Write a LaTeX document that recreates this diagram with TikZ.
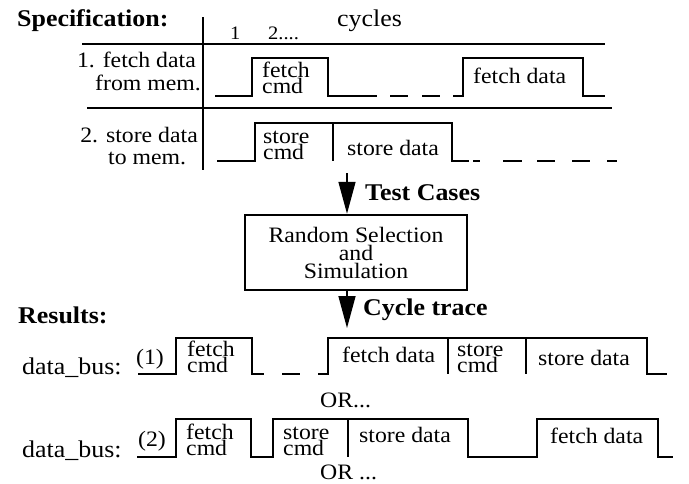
\documentclass[tikz,border=0pt]{standalone}
\usepackage{fontspec}
\setmainfont{Liberation Serif}[FakeStretch=1.08]
\usetikzlibrary{arrows.meta}

% lets stacked lines sit closer than their glyphs would allow
\newcommand{\tightskip}{\lineskiplimit-30pt\relax}

\begin{document}
\begin{tikzpicture}[x=1pt, y=-1pt,
    signal/.style={line width=1.4pt},
    rule/.style={line width=1.4pt},
    lbl/.style={inner sep=0pt, font=\fontsize{22}{23}\selectfont},
    big/.style={inner sep=0pt, font=\fontsize{24}{26}\selectfont},
    digit/.style={inner sep=0pt, font=\fontsize{19}{20}\selectfont},
    head/.style={inner sep=0pt, font=\fontsize{24}{26}\selectfont\bfseries},
    pair/.style={inner sep=0pt, align=left, anchor=south west,
        font=\fontsize{22}{16}\selectfont\tightskip},
    flow/.style={line width=1.6pt, -{Triangle[length=32pt,width=17pt]}}]
    \useasboundingbox (0,0) rectangle (689,483);

    % specification table
    \node[head, anchor=base west] (spec) at (17,26) {Specification:};
    \node[big, anchor=base west] (cyc) at (337,26) {cycles};
    \node[digit, anchor=base west] (c1) at (230,39) {1};
    \node[digit, anchor=base west] (c2) at (268,39) {2....};
    \draw[rule] (203,17) -- (203,170);
    \draw[rule] (82,44) -- (605,44);
    \draw[rule] (87,108) -- (612,108);

    % 1. fetch
    \node[lbl, anchor=base east] (fa) at (196,67) {1. fetch data};
    \node[lbl, anchor=base east] (fb) at (201,90) {from mem.};
    \draw[signal] (215,96) -- (252,96) -- (252,58) -- (328,58) -- (328,96) -- (377,96);
    \foreach \a/\b in {390/408, 422/440} {
        \draw[signal] (\a,96) -- (\b,96);
    }
    \draw[signal] (453,96) -- (463,96) -- (463,58) -- (583,58) -- (583,96) -- (605,96);
    \node[pair] (fcmd) at (262,94) {fetch\\cmd};
    \node[lbl, anchor=base west] (fdat) at (473,83) {fetch data};

    % 2. store
    \node[lbl, anchor=base east] (sa) at (198,142) {2. store data};
    \node[lbl, anchor=base west] (sb) at (108,164) {to mem.};
    \draw[signal] (217,161) -- (255,161) -- (255,123) -- (452,123) -- (452,161) -- (469,161);
    \draw[signal] (333,123) -- (333,161);
    \foreach \a/\b in {473/480, 503/522, 537/555, 572/590, 607/617} {
        \draw[signal] (\a,161) -- (\b,161);
    }
    \node[pair] (scmd) at (263,160) {store\\cmd};
    \node[lbl, anchor=base west] (sdat) at (347,155) {store data};

    % simulation step
    \node[draw, line width=2.5pt, minimum width=222pt, minimum height=75pt,
        align=center, font=\fontsize{22}{18}\selectfont\tightskip]
        (sim) at (356,252.5) {Random Selection\\and\\Simulation};
    \coordinate (tcin) at (347,173);
    \coordinate (ctout) at (347,328);
    \draw[flow] (tcin) -- (tcin |- sim.north);
    \draw[flow] (ctout |- sim.south) -- (ctout);
    \node[head, anchor=base west] (tc) at (365,200) {Test Cases};
    \node[head, anchor=base west] (ct) at (363,315) {Cycle trace};

    % results
    \node[head, anchor=base west] (res) at (18,323) {Results:};

    % trace (1)
    \node[big, anchor=base west] (bus1) at (22,374) {data\_bus:};
    \node[lbl, anchor=base west] (n1) at (136,364) {(1)};
    \draw[signal] (138,374) -- (176,374) -- (176,338) -- (252,338) -- (252,374) -- (264,374);
    \draw[signal] (282,374) -- (300,374);
    \draw[signal] (318,374) -- (328,374) -- (328,338) -- (647,338) -- (647,374) -- (667,374);
    \foreach \x in {448, 526} {
        \draw[signal] (\x,338) -- (\x,374);
    }
    \node[pair] (r1a) at (187,373) {fetch\\cmd};
    \node[lbl, anchor=base west] (r1b) at (342,362) {fetch data};
    \node[pair] (r1c) at (457,373) {store\\cmd};
    \node[lbl, anchor=base west] (r1d) at (538,365) {store data};
    \node[lbl, anchor=base west] (or1) at (320,407) {OR...};

    % trace (2)
    \node[big, anchor=base west] (bus2) at (22,457) {data\_bus:};
    \node[lbl, anchor=base west] (n2) at (138,446) {(2)};
    \draw[signal] (137,457) -- (176,457) -- (176,419) -- (251,419) -- (251,457) -- (273,457)
        -- (273,419) -- (468,419) -- (468,457) -- (537,457) -- (537,419) -- (658,419)
        -- (658,457) -- (673,457);
    \draw[signal] (348,419) -- (348,457);
    \node[pair] (r2a) at (186,456) {fetch\\cmd};
    \node[pair] (r2b) at (283,456) {store\\cmd};
    \node[lbl, anchor=base west] (r2c) at (359,442) {store data};
    \node[lbl, anchor=base west] (r2d) at (550,443) {fetch data};
    \node[lbl, anchor=base west] (or2) at (320,479) {OR ...};
\end{tikzpicture}
\end{document}
